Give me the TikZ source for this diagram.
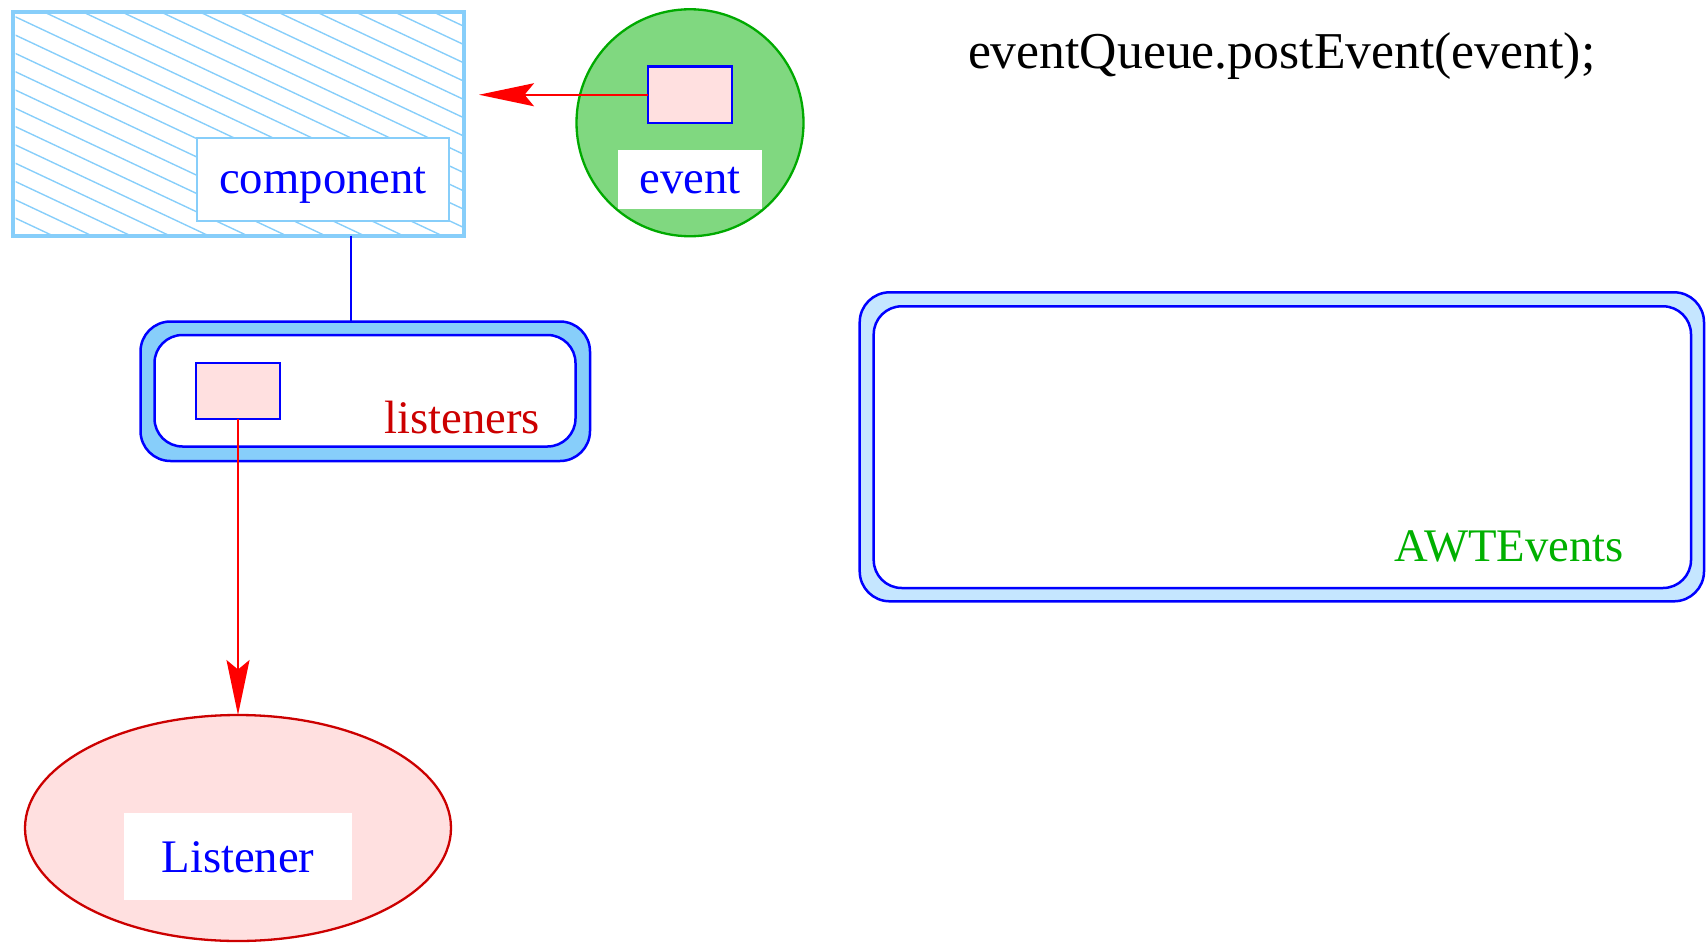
\documentclass[tikz,border=0pt]{standalone}
\usepackage{fontspec}
\setmainfont{Liberation Serif}
\usetikzlibrary{arrows.meta,shapes.geometric}

\definecolor{skyline}{RGB}{135,206,250}
\definecolor{ringfill}{RGB}{135,206,250}
\definecolor{palering}{RGB}{197,230,255}
\definecolor{pinkfill}{RGB}{255,224,224}
\definecolor{darkred}{RGB}{204,0,0}
\definecolor{puregreen}{RGB}{0,170,0}
\definecolor{leafgreen}{RGB}{128,216,128}
\definecolor{textgreen}{RGB}{0,176,0}

\tikzset{
  every node/.style={inner sep=0pt, outer sep=0pt},
  txt/.style={anchor=base, font=\fontsize{46.7}{56}\selectfont},
  boxrect/.style={draw=blue, fill=pinkfill, line width=2.3pt, rectangle},
  ringouter/.style={draw=blue, line width=2.5pt, rounded corners=30pt, rectangle},
  ringinner/.style={draw=blue, fill=white, line width=2.5pt, rounded corners=28pt, rectangle},
  whitebox/.style={fill=white, rectangle},
  redarrow/.style={draw=red, line width=2pt, -{Stealth[length=55pt, width=23pt, inset=9.5pt]}},
}

\begin{document}
\begin{tikzpicture}[x=1pt, y=-1pt]
  \useasboundingbox (0,0) rectangle (1707,942);

  % component: hatched box
  \node[draw=skyline, line width=4pt, minimum width=451pt, minimum height=223.5pt]
    (comp) at (238.5,123.75) {};
  \begin{scope}
    \clip (15.5,14) rectangle (462,233.5);
    \foreach \k in {-13,...,13}
      \draw[skyline, line width=1.4pt] (13,15.7+\k*18.3) -- (464,15.7+\k*18.3+451*0.47);
  \end{scope}
  \node[draw=skyline, fill=white, line width=2.5pt, minimum width=252pt, minimum height=83pt]
    (complabel) at (323,179.5) {};
  \node[txt, text=blue] (comptext) at (323,193) {component};

  % event circle
  \node[circle, draw=puregreen, fill=leafgreen, line width=2.3pt, minimum size=227pt]
    (evcircle) at (690,122.75) {};
  \node[boxrect, minimum width=84pt, minimum height=56.5pt] (evrect) at (690,94.75) {};
  \node[whitebox, minimum width=144pt, minimum height=59pt] (evlabel) at (690,179.5) {};
  \node[txt, text=blue] (evtext) at (690,193) {event};
  \coordinate (hit) at (479,94.75);
  \draw[redarrow] (evrect.west) -- (hit);

  % listeners
  \node[ringouter, fill=ringfill, minimum width=449.5pt, minimum height=139.5pt]
    (lout) at (365.25,391.25) {};
  \node[ringinner, minimum width=421pt, minimum height=111.5pt] (lin) at (365,390.75) {};
  \node[boxrect, minimum width=84.6pt, minimum height=56pt] (lsmall) at (238,390.7) {};
  \node[txt, anchor=base east, text=darkred] (ltext) at (540,433) {listeners};
  \draw[blue, line width=2pt] ([xshift=112pt]comp.south) -- ([xshift=112pt]comp.south |- lout.north);

  % Listener
  \node[ellipse, draw=darkred, fill=pinkfill, line width=2.3pt, minimum width=426pt, minimum height=226pt]
    (listener) at (238,828) {};
  \node[whitebox, minimum width=228pt, minimum height=87pt] (listlabel) at (238,856.5) {};
  \node[txt, text=blue] (listtext) at (238,872) {Listener};
  \draw[redarrow] (lsmall.south) -- (listener.north);

  % AWTEvents queue
  \node[ringouter, fill=palering, minimum width=844.3pt, minimum height=309pt]
    (aout) at (1281.85,446.8) {};
  \node[ringinner, minimum width=817.3pt, minimum height=281.7pt] (ain) at (1282.35,447.15) {};
  \node[txt, anchor=base east, text=textgreen] (atext) at (1624,561) {AWTEvents};

  % code line
  \node[anchor=base west, font=\fontsize{51.7}{62}\selectfont] (code) at (968,69)
    {eventQueue.postEvent(event);};
\end{tikzpicture}
\end{document}
